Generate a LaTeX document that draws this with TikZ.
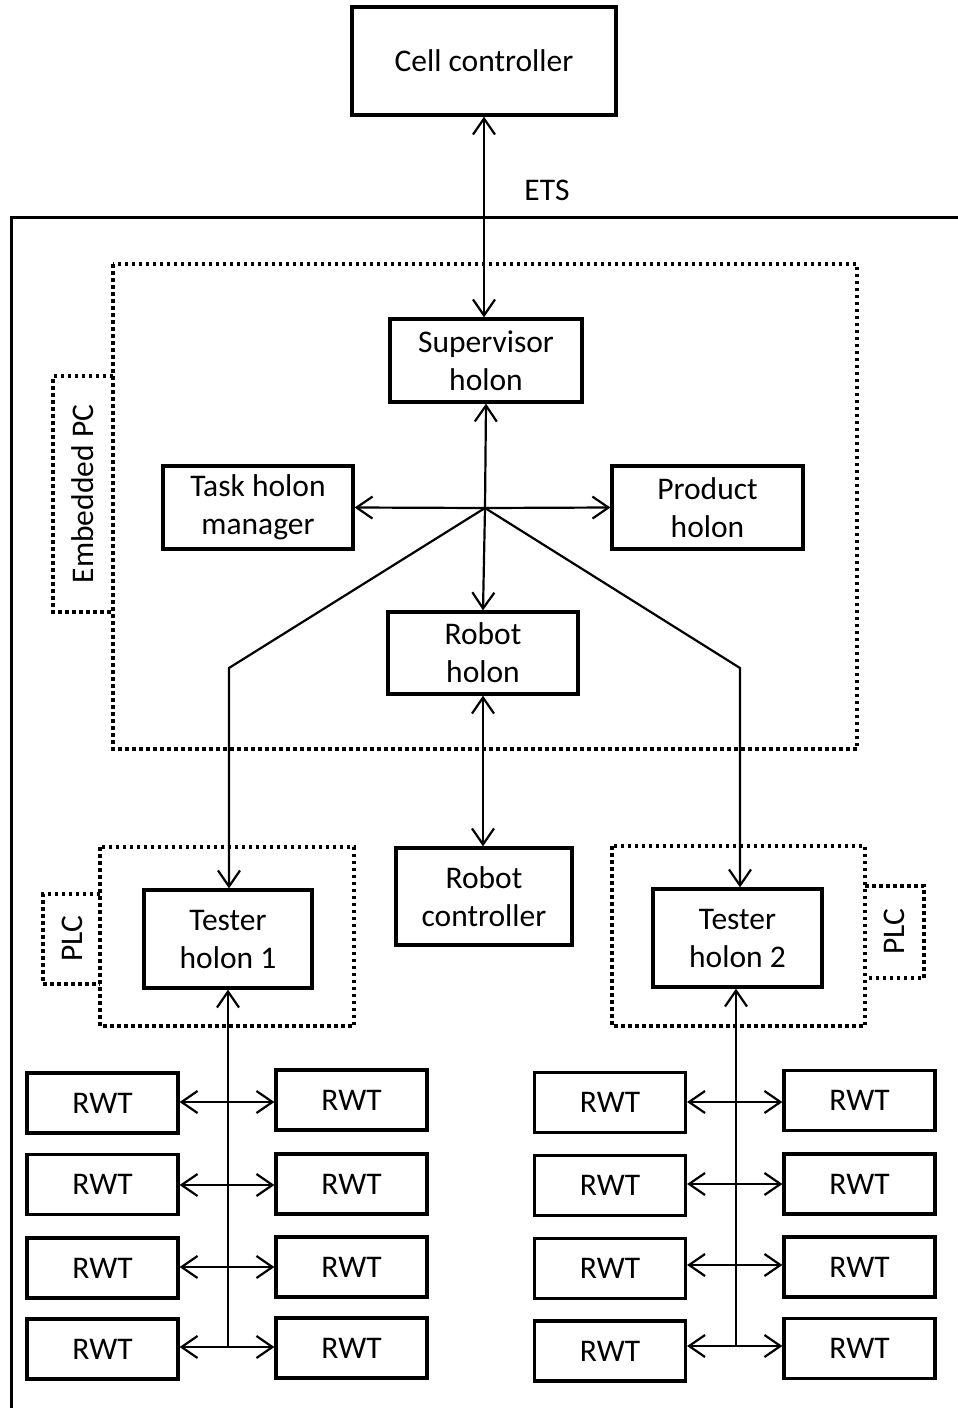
\documentclass[tikz,border=0pt]{standalone}
\usepackage{fontspec}
\setmainfont{Carlito}
\usetikzlibrary{arrows.meta}
\begin{document}
\begin{tikzpicture}[x=1pt,y=-1pt,
  box/.style={draw,line width=3.2pt,align=center,inner sep=0pt,font=\fontsize{31.5}{38}\selectfont},
  dotbox/.style={draw,line width=3.5pt,dash pattern=on 3.5pt off 3.5pt},
  conn/.style={line width=2.2pt,arrows={Straight Barb[length=16pt,width=22pt,line width=2.2pt]-Straight Barb[length=16pt,width=22pt,line width=2.2pt]}},
  conr/.style={line width=2.2pt,-{Straight Barb[length=16pt,width=22pt,line width=2.2pt]}},
  lbl/.style={font=\fontsize{31.5}{38}\selectfont,inner sep=0pt}]
\useasboundingbox (0,0) rectangle (958,1408);
% outer frame
\draw[line width=3pt] (958,217) -- (11,217) -- (11,1408);
% dotted groups
\draw[dotbox] (113,264) rectangle (857,749);
\draw[dotbox] (113,376) -- (53,376) -- (53,612) -- (113,612);
\node[lbl,rotate=90] (epc) at (83,494) {Embedded PC};
\draw[dotbox] (100,847) rectangle (354,1026);
\draw[dotbox] (100,894) -- (43,894) -- (43,984) -- (100,984);
\node[lbl,rotate=90] (plc1) at (72,939) {PLC};
\draw[dotbox] (612,846) rectangle (865,1026);
\draw[dotbox] (865,886) -- (924,886) -- (924,978) -- (865,978);
\node[lbl,rotate=90] (plc2) at (894.5,932) {PLC};
% nodes
\node[box,minimum width=264pt,minimum height=108pt] (cell) at (484,61) {Cell controller};
\node[lbl] (ets) at (547,190) {ETS};
\node[box,minimum width=192pt,minimum height=83pt] (sup) at (486,360.5) {Supervisor\\holon};
\node[box,minimum width=190pt,minimum height=83pt] (task) at (258,507.5) {Task holon\\manager};
\node[box,minimum width=191pt,minimum height=83pt] (prod) at (707.5,507.5) {Product\\holon};
\node[box,minimum width=190pt,minimum height=82pt] (robh) at (483,653) {Robot\\holon};
\node[box,minimum width=176pt,minimum height=97pt] (robc) at (484,896.5) {Robot\\controller};
\node[box,minimum width=168pt,minimum height=98pt] (t1) at (228,939) {Tester\\holon 1};
\node[box,minimum width=169pt,minimum height=98pt] (t2) at (737.5,938) {Tester\\holon 2};
% RWT boxes
\foreach \n/\x/\y in {a1/102.5/1103,a2/102.5/1184.5,a3/102.5/1268,a4/102.5/1349,
                      b1/351.5/1100,b2/351.5/1184,b3/351.5/1267,b4/351.5/1348,
                      c1/610/1102.5,c2/610/1185.5,c3/610/1268.5,c4/610/1351,
                      d1/859.5/1100.5,d2/859.5/1184,d3/859.5/1267,d4/859.5/1348.5}
  \node[box,minimum width=151pt,minimum height=60pt] (\n) at (\x,\y) {RWT};
% connectors
\coordinate (hub) at (485,508);
\coordinate (k1) at (229,668);
\coordinate (k2) at (740,668);
\draw[conn] (cell.south) -- (cell.south |- sup.north);
\draw[conr] (hub) -- (sup.south);
\draw[conr] (hub) -- (robh.north);
\draw[conr] (hub) -- (task.east);
\draw[conr] (hub) -- (prod.west);
\draw[conr] (hub) -- (k1) -- (k1 |- t1.north);
\draw[conr] (hub) -- (k2) -- (k2 |- t2.north);
\draw[conn] (robh.south) -- (robh.south |- robc.north);
% left bus
\coordinate (bus1) at (228,1347);
\draw[conr] (bus1) -- (bus1 |- t1.south);
\foreach \i/\yy in {1/1102,2/1185,3/1267,4/1347}
  \draw[conn] (a\i.east |- 0,\yy) -- (b\i.west |- 0,\yy);
% right bus
\coordinate (bus2) at (736,1346);
\draw[conr] (bus2) -- (bus2 |- t2.south);
\foreach \i/\yy in {1/1102,2/1184,3/1265,4/1346}
  \draw[conn] (c\i.east |- 0,\yy) -- (d\i.west |- 0,\yy);
\end{tikzpicture}
\end{document}
